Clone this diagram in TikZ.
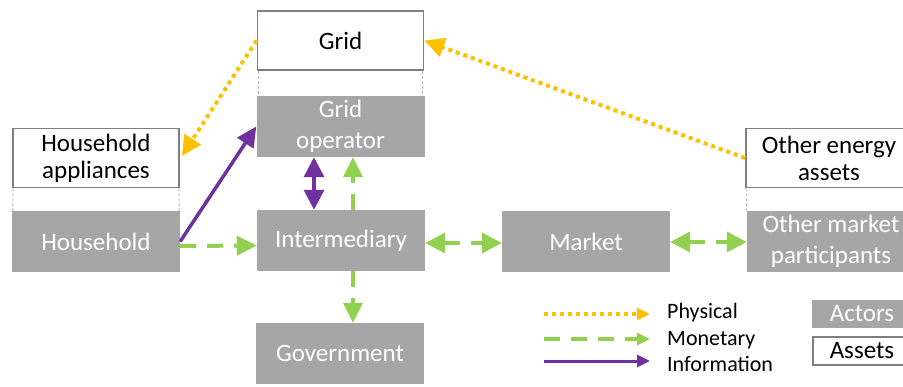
\documentclass[tikz,border=0pt]{standalone}
\usepackage{fontspec}
\setmainfont{Carlito}
\usetikzlibrary{arrows.meta}

\begin{document}
\begin{tikzpicture}[x=1pt,y=-1pt,
  actor/.style={fill=en_gray,text=white,minimum width=168pt,minimum height=61pt,
    inner sep=0pt,align=center,font=\fontsize{25}{31}\selectfont},
  asset/.style={draw=en_edge,line width=1.8pt,fill=white,text=black,minimum width=166pt,
    minimum height=59pt,inner sep=0pt,align=center,font=\fontsize{25}{27}\selectfont},
  split/.style={draw=en_light,line width=0.9pt,dash pattern=on 3pt off 2pt},
  physical/.style={color=en_orange,line width=4pt,dash pattern=on 4pt off 4pt},
  monetary/.style={color=en_green,line width=4pt,dash pattern=on 16pt off 11pt},
  information/.style={color=en_purple,line width=3.5pt},
  bigtip/.style={arrows={-{Triangle[length=20pt,width=19pt]}}},
  twotip/.style={arrows={{Triangle[length=20pt,width=20pt]}-{Triangle[length=20pt,width=20pt]}}},
  smalltip/.style={arrows={-{Triangle[length=13pt,width=12pt]}}}]

% ------------------------------------------------ theme colors
\definecolor{en_gray}{RGB}{166,166,166}   %#A6A6A6
\definecolor{en_edge}{RGB}{127,127,127}   %#7F7F7F
\definecolor{en_light}{RGB}{180,180,180}  %#B4B4B4
\definecolor{en_orange}{RGB}{255,192,0}   %#FFC000
\definecolor{en_green}{RGB}{146,208,80}   %#92D050
\definecolor{en_purple}{RGB}{112,48,160}  %#7030A0

\useasboundingbox (0,0) rectangle (903,386);
\clip (0,0) rectangle (903,386);

% assets (white) and actors (gray)
\node[asset] (grid)        at (340.5,40.5) {Grid};
\node[actor] (gridop)      at (340.5,126.5) {Grid\\operator};
\node[asset] (appliances)  at (96,158) {Household\\appliances};
\node[actor] (household)   at (96,241.5) {Household};
\node[actor] (intermediary) at (341,240.5) {Intermediary};
\node[actor] (government)  at (340,353.5) {Government};
\node[actor] (market)      at (586,241.5) {Market};
\node[asset] (otherassets) at (829,158) {Other energy\\assets};
\node[actor] (othermarket) at (831,241.5) {Other market\\participants};

% thin dashed links between an asset and its actor
\draw[split] ([xshift=2pt]grid.south west) -- ([xshift=2pt]gridop.north west);
\draw[split] ([xshift=-2pt]grid.south east) -- ([xshift=-2pt]gridop.north east);
\draw[split] ([xshift=1pt]appliances.south west) -- ([xshift=1pt]household.north west);
\draw[split] ([xshift=-1pt]appliances.south east) -- ([xshift=-1pt]household.north east);
\draw[split] ([xshift=1pt]otherassets.south west) -- (othermarket.north west);

% physical flows
\draw[physical,bigtip] (grid.west) -- ([shift={(2pt,2pt)}]appliances.east);
\draw[physical,bigtip] (otherassets.west) -- (grid.east);

% information flows
\draw[information,bigtip] (household.east) -- (gridop.west);
\draw[information,twotip] ([xshift=-26.5pt]gridop.south) -- ([xshift=-27pt]intermediary.north);

% monetary flows
\draw[monetary,bigtip] ([yshift=-4.5pt]household.east) -- ([yshift=-5pt]intermediary.west);
\draw[monetary,bigtip] ([xshift=12pt]intermediary.north) -- ([xshift=12.5pt]gridop.south);
\draw[monetary,bigtip] ([xshift=12pt]intermediary.south) -- ([xshift=13pt]government.north);
\draw[monetary,twotip] ([yshift=-2.5pt]intermediary.east) -- ([yshift=-1.5pt]market.west);
\draw[monetary,twotip] ([yshift=-0.5pt]market.east) -- ([yshift=-0.5pt]othermarket.west);

% ------------------------------------------------ legend
\coordinate (phys_a) at (544,314);  \coordinate (phys_b) at (650,314);
\coordinate (mon_a)  at (544,339);  \coordinate (mon_b)  at (650,339);
\coordinate (info_a) at (544,361);  \coordinate (info_b) at (650,361);
\draw[physical,line width=3.5pt,smalltip] (phys_a) -- (phys_b);
\draw[monetary,line width=3.5pt,smalltip] (mon_a) -- (mon_b);
\draw[information,line width=3pt,smalltip] (info_a) -- (info_b);

\node[anchor=west,inner sep=0pt,font=\fontsize{22}{24}\selectfont] (physlabel) at (667,313) {Physical};
\node[anchor=west,inner sep=0pt,font=\fontsize{22}{24}\selectfont] (monlabel)  at (667,340) {Monetary};
\node[anchor=west,inner sep=0pt,font=\fontsize{22}{24}\selectfont] (infolabel) at (667,364) {Information};

\node[actor,minimum width=100pt,minimum height=28pt] (actorkey) at (862,314) {Actors};
\node[asset,minimum width=98pt,minimum height=28pt] (assetkey) at (862,351) {Assets};

\end{tikzpicture}
\end{document}
